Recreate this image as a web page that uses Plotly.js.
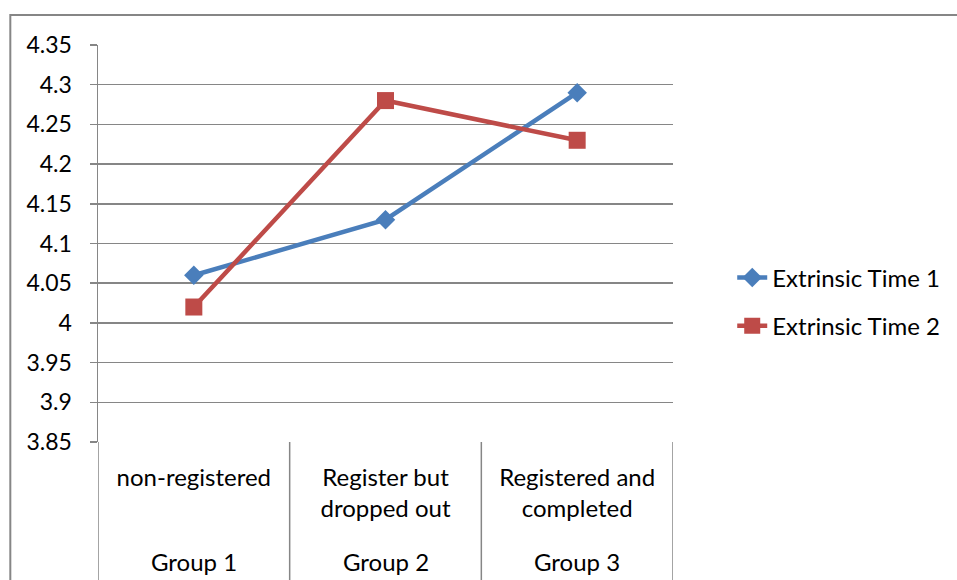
<!DOCTYPE html>
<html>
<head>
<meta charset="utf-8">
<script src="https://cdn.plot.ly/plotly-3.0.1.min.js"></script>
<style>html,body{margin:0;padding:0;background:#fff;}#chart{width:957px;height:580px;}</style>
</head>
<body>
<div id="chart"></div>
<script>
// ---- data ----
var categories = ["non-registered", "Register but<br>dropped out", "Registered and<br>completed"];
var groups = ["Group 1", "Group 2", "Group 3"];
var seriesNames = ["Extrinsic Time 1", "Extrinsic Time 2"];
var time1 = [4.06, 4.13, 4.29];
var time2 = [4.02, 4.28, 4.23];
var yTickVals = [3.85, 3.9, 3.95, 4, 4.05, 4.1, 4.15, 4.2, 4.25, 4.3, 4.35];
var yTickText = ["3.85", "3.9", "3.95", "4", "4.05", "4.1", "4.15", "4.2", "4.25", "4.3", "4.35"];

var FONT = "Lato, 'Liberation Sans', sans-serif";
var GRID = "#868686";
var idx = categories.map(function (_, i) { return i; });

var traces = [
  {
    x: idx, y: time1, name: seriesNames[0], type: "scatter", mode: "lines+markers",
    line: {color: "#4A7EBB", width: 4.5}, marker: {symbol: "diamond", size: 15, color: "#4A7EBB"},
    legendgroup: "a"
  },
  {
    x: idx, y: time2, name: seriesNames[1], type: "scatter", mode: "lines+markers",
    line: {color: "#BE4B48", width: 4.5}, marker: {symbol: "square", size: 17, color: "#BE4B48"},
    legendgroup: "b"
  }
];

var shapes = [];
for (var i = 0; i <= categories.length; i++) {
  shapes.push({type: "line", xref: "x", yref: "paper", x0: i - 0.5, x1: i - 0.5, y0: 0, y1: -0.4,
    line: {color: GRID, width: 1.5}});
}
// outer chart border
shapes.push({type: "rect", xref: "paper", yref: "paper", x0: -0.1525, x1: 2, y0: -1, y1: 1.0756,
  line: {color: GRID, width: 2}, fillcolor: "rgba(0,0,0,0)"});

var annotations = groups.map(function (g, i) {
  return {xref: "x", yref: "paper", x: i, y: (442 - 561) / 397, text: g, showarrow: false,
    xanchor: "center", yanchor: "middle", font: {family: FONT, size: 24, color: "#000"}};
});

var layout = {
  width: 957, height: 580,
  margin: {l: 98, r: 282, t: 45, b: 138},
  paper_bgcolor: "#fff", plot_bgcolor: "#fff",
  font: {family: FONT, size: 24, color: "#000"},
  showlegend: true,
  legend: {x: 1.103, y: 0.353, xanchor: "left", yanchor: "middle", traceorder: "grouped",
    tracegroupgap: 14, font: {family: FONT, size: 24, color: "#000"}, bgcolor: "rgba(0,0,0,0)"},
  xaxis: {
    type: "linear", range: [-0.5, 2.5], tickvals: idx, ticktext: categories,
    showgrid: false, zeroline: false, showline: false, ticks: "",
    ticklabelstandoff: 19, tickfont: {family: FONT, size: 24, color: "#000"}, fixedrange: true
  },
  yaxis: {
    range: [3.85, 4.35], tickvals: yTickVals, ticktext: yTickText,
    showgrid: true, gridcolor: GRID, gridwidth: 1.5, zeroline: false,
    showline: true, linecolor: GRID, linewidth: 1.5, ticks: "outside", ticklen: 7, tickcolor: GRID, tickwidth: 1.5,
    ticklabelstandoff: 13, tickfont: {family: FONT, size: 23, color: "#000"}, fixedrange: true
  },
  shapes: shapes,
  annotations: annotations
};

Plotly.newPlot("chart", traces, layout, {displayModeBar: false, staticPlot: true});
</script>
</body>
</html>
